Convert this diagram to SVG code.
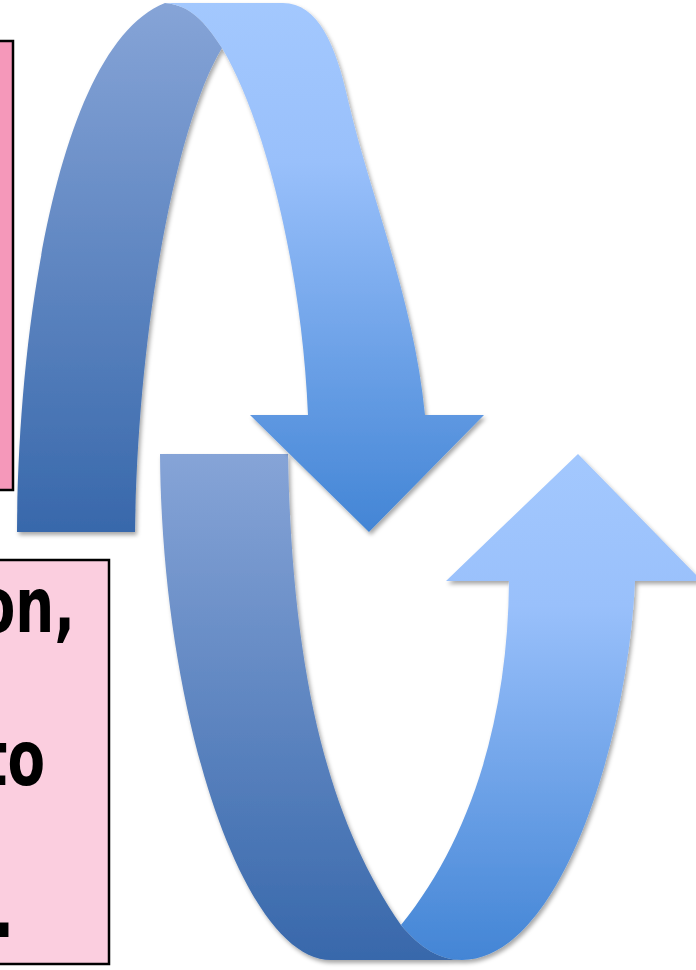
<svg xmlns="http://www.w3.org/2000/svg" width="696" height="970" viewBox="0 0 696 970">
<style>
.box{stroke:#000;stroke-width:2.5}
.lbl{font-family:"DejaVu Sans","Verdana",sans-serif;font-weight:bold;font-size:76px;fill:#000;text-anchor:end}
</style>
<defs>
<linearGradient id="gDark" x1="0" y1="0" x2="0" y2="1">
<stop offset="0" stop-color="#86A4D7"/><stop offset="1" stop-color="#3868AB"/>
</linearGradient>
<linearGradient id="gLight" x1="0" y1="0" x2="0" y2="1">
<stop offset="0" stop-color="#A3C8FE"/><stop offset="0.3" stop-color="#99C0FB"/><stop offset="1" stop-color="#4385D5"/>
</linearGradient>
<filter id="sh" x="-10%" y="-10%" width="130%" height="130%">
<feDropShadow dx="2" dy="3" stdDeviation="2" flood-color="#000" flood-opacity="0.35"/>
</filter>
<clipPath id="clipBox2"><rect x="0" y="560" width="109" height="404"/></clipPath>
</defs>
<rect width="696" height="970" fill="#fff"/>
<g id="box-top">
<rect class="box" x="-5" y="41" width="18" height="449" fill="#F598BA"/>
</g>
<g id="box-bottom">
<rect class="box" x="-5" y="560" width="114" height="404" fill="#FBCEDF"/>
<g clip-path="url(#clipBox2)">
<text class="lbl" transform="translate(75,632) scale(0.72,1)">on,</text>
<text class="lbl" transform="translate(45,785) scale(0.72,1)">to</text>
<text class="lbl" transform="translate(14,937) scale(0.72,1)">.</text>
</g>
</g>
<g id="connectors">
<g id="arrow-up" filter="url(#sh)">
<path fill="url(#gDark)" d="M160,454 L288,454 C292,680 330,822 401,925 C420,948 440,960 462,960 L331,960 C245,960 162,720 160,454 Z"/>
<path fill="url(#gLight)" d="M401,925 C470,840 508,720 509,581 L446,581 L578,454 L702,581 L635,581 C628,740 560,960 462,960 C440,960 420,948 401,925 Z"/>
</g>
<g id="arrow-down" filter="url(#sh)">
<path fill="url(#gDark)" d="M17,532 L135,532 C138,320 178,120 222,48 C205,22 190,5 165,3 C60,45 18,320 17,532 Z"/>
<path fill="url(#gLight)" d="M165,3 L283,3 C318,3 336,45 348,100 C370,195 414,300 425,415 L484,415 L369,532 L250,415 L308,415 C302,270 265,120 222,48 C205,22 190,5 165,3 Z"/>
</g>
</g>
</svg>
